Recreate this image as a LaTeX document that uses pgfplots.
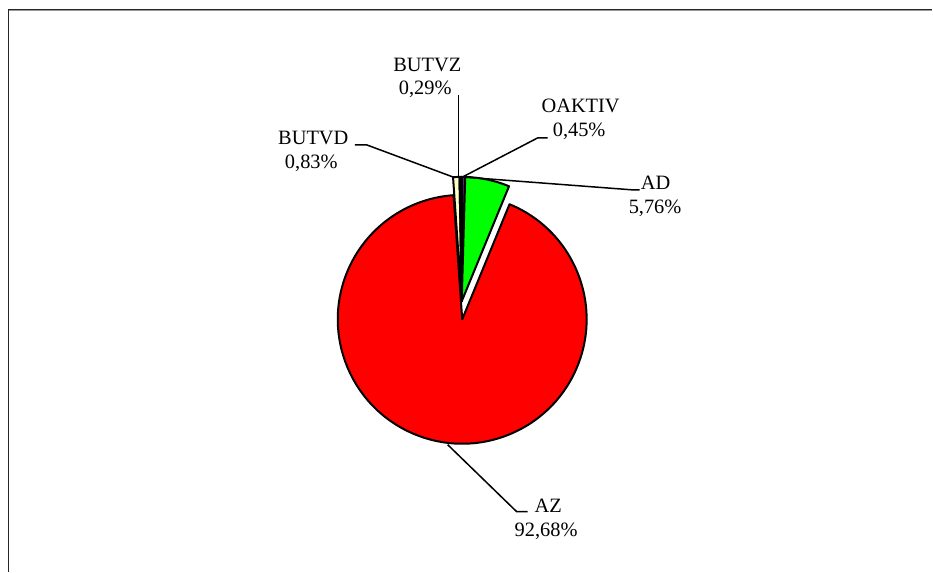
\documentclass[border=0pt]{standalone}
\usepackage{pgfplots}
\pgfplotsset{compat=1.18}
\usepackage{pgfplotstable}
\usepackage{fontspec}
\setmainfont{Liberation Serif}

\definecolor{oaktiv}{HTML}{602080}
\definecolor{adgreen}{HTML}{00FF00}
\definecolor{azred}{HTML}{FF0000}
\definecolor{butvd}{HTML}{FFFFCC}
\definecolor{butvz}{HTML}{CCFFFF}

% shares in percent, clockwise from 12 o'clock
\pgfplotstableread{
name   value
OAKTIV 0.45
AD     5.76
AZ     92.68
BUTVD  0.83
BUTVZ  0.29
}\piedata

\def\pieR{124.5bp}
\newcommand\pieslice[4]{%
  \filldraw[fill=#4, draw=black, line width=2bp, line join=round]
    (axis cs:#1,#2) -- ++({90-\csname pieS#3\endcsname}:\pieR)
    arc[start angle={90-\csname pieS#3\endcsname}, end angle={90-\csname pieE#3\endcsname}, radius=\pieR]
    -- cycle;}

\tikzset{lbl/.style={anchor=base, inner sep=0pt, font=\fontsize{20.4bp}{23bp}\selectfont}}

\begin{document}
\begin{tikzpicture}
\gdef\cum{0}
\foreach \i in {0,...,4}{%
  \pgfplotstablegetelem{\i}{value}\of\piedata
  \let\v\pgfplotsretval
  \pgfmathsetmacro\a{\cum*3.6}%
  \pgfmathsetmacro\b{(\cum+\v)*3.6}%
  \pgfmathsetmacro\c{\cum+\v}%
  \expandafter\xdef\csname pieS\i\endcsname{\a}%
  \expandafter\xdef\csname pieE\i\endcsname{\b}%
  \xdef\cum{\c}%
}
\begin{axis}[scale only axis, width=933bp, height=572bp,
  xmin=0, xmax=933, ymin=0, ymax=572, y dir=reverse,
  hide axis, clip=false]
\path (axis cs:0,0) rectangle (axis cs:933,572);
% frame
\draw[line width=1.2bp, black!85] (axis cs:8.5,572) -- (axis cs:8.5,9.6) -- (axis cs:933,9.6);
\draw[line width=0.8bp, black!40] (axis cs:9.5,10.9) -- (axis cs:933,10.9);
% pie slices
\pieslice{462.5}{319.5}{2}{azred}
\pieslice{462}{301.5}{0}{oaktiv}
\pieslice{462}{301.5}{1}{adgreen}
\pieslice{462}{301.5}{3}{butvd}
\pieslice{462}{301.5}{4}{butvz}
% leader lines
\draw[line width=1.5bp] (axis cs:459,95) -- (axis cs:459,178);
\draw[line width=1.5bp] (axis cs:463,177) -- (axis cs:538,138) -- (axis cs:548,138);
\draw[line width=1.5bp] (axis cs:355,145) -- (axis cs:367,145) -- (axis cs:453,177);
\draw[line width=1.5bp] (axis cs:462,177) -- (axis cs:633,190) -- (axis cs:640,190);
\draw[line width=1.5bp] (axis cs:448,445) -- (axis cs:517,512) -- (axis cs:528,512);
% labels
\node[lbl] at (axis cs:427.5,72) {BUTVZ};
\node[lbl] at (axis cs:425.5,95) {0,29\%};
\node[lbl] at (axis cs:581,113) {OAKTIV};
\node[lbl] at (axis cs:579.5,137) {0,45\%};
\node[lbl] at (axis cs:313.5,145) {BUTVD};
\node[lbl] at (axis cs:311.5,169) {0,83\%};
\node[lbl] at (axis cs:656,190) {AD};
\node[lbl] at (axis cs:655.5,214) {5,76\%};
\node[lbl] at (axis cs:548.5,513) {AZ};
\node[lbl] at (axis cs:546.5,537) {92,68\%};
\end{axis}
\end{tikzpicture}
\end{document}
